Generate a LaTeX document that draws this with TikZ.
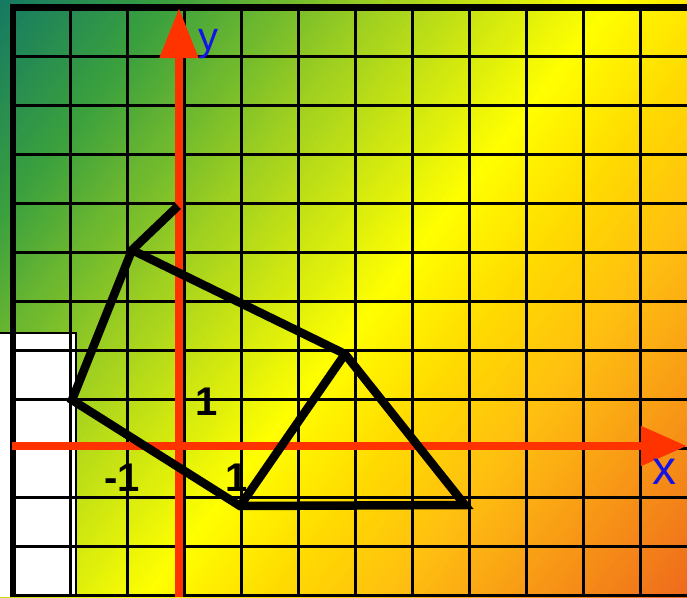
\documentclass[tikz,border=0pt]{standalone}
\usepackage{fontspec}
\setmainfont{Liberation Sans}
\usetikzlibrary{arrows.meta}
\definecolor{g0}{HTML}{157A62}
\definecolor{g1}{HTML}{3AA03E}
\definecolor{g2}{HTML}{A0D020}
\definecolor{g3}{HTML}{FFFF00}
\definecolor{g4}{HTML}{FFDA00}
\definecolor{g5}{HTML}{FFC010}
\definecolor{g6}{HTML}{EC5A1E}
\definecolor{axisred}{HTML}{FF3300}
\definecolor{labblue}{RGB}{20,20,230}
\tikzset{
  gridline/.style={black, line width=3pt},
  border/.style={black, line width=6.5pt},
  axisline/.style={axisred, line width=8pt},
  poly/.style={black, line width=8.5pt, miter limit=4},
  numlab/.style={font=\fontsize{40}{44}\selectfont\bfseries, inner sep=0pt},
  axlab/.style={labblue, inner sep=0pt},
}
\begin{document}
\begin{tikzpicture}[x=1pt, y=-1pt]
\useasboundingbox (0,0) rectangle (687,597);
% gradient background
\begin{scope}
\clip (0,0) rectangle (687,597);
\begin{scope}[rotate=-38.1]
\foreach \ta/\tb/\ca/\cb in {0/130/g0/g1, 130/300/g1/g2, 300/480/g2/g3, 480/580/g3/g4, 580/670/g4/g5, 670/950/g5/g6}{
  \pgfmathtruncatemacro{\n}{(\tb-\ta)/5}
  \foreach \i in {0,...,\n}{
    \pgfmathsetmacro{\t}{\ta+\i*(\tb-\ta)/\n}
    \pgfmathtruncatemacro{\p}{100*\i/\n}
    \fill[\cb!\p!\ca] (\t,-1200) rectangle ({\t+7},1200);
  }
}
\end{scope}
\end{scope}
% white block
\fill[white] (0,333) rectangle (76,597);
\draw[black, line width=1.5pt] (0,333) -- (76,333) -- (76,597);
% grid
\foreach \x in {70,127,...,640} \draw[gridline] (\x,7) -- (\x,597);
\foreach \y in {56,105,...,595} \draw[gridline] (13,\y) -- (687,\y);
\draw[border] (13,597) -- (13,7.5) -- (687,7.5);
% axes
\coordinate (xs) at (12,446);
\coordinate (xe) at (687,446);
\coordinate (ys) at (179,597);
\coordinate (ye) at (179,8);
\draw[axisline, -{Triangle[length=46pt 0 0, width=38pt 0 0]}] (xs) -- (xe);
\draw[axisline, -{Triangle[length=50pt 0 0, width=37pt 0 0]}] (ys) -- (ye);
\node[axlab, font=\fontsize{48}{50}\selectfont] (xlab) at (664,472) {x};
\node[axlab, font=\fontsize{40}{44}\selectfont] (ylab) at (208,44) {y};
% numbers
\node[numlab] (one-y) at (207,402) {1};
\node[numlab] (mone-x) at (122,478) {-1};
\node[numlab] (one-x) at (237,478) {1};
% polygon
\coordinate (A) at (178,206);
\coordinate (B) at (132,250);
\coordinate (C) at (72,400);
\coordinate (D) at (240,506);
\coordinate (E) at (465,505);
\coordinate (F) at (345,354);
\draw[poly] (A) -- (B) -- (C) -- (D) -- (E) -- (F) -- (B);
\draw[poly] (F) -- (D);
\end{tikzpicture}
\end{document}
